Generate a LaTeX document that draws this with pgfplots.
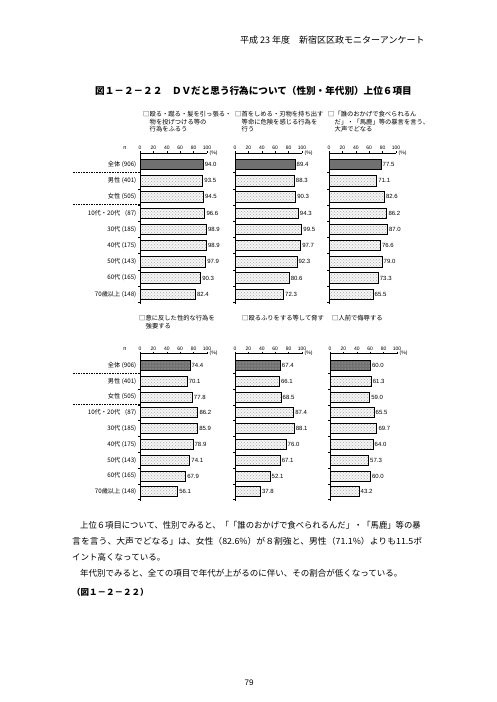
\documentclass[border=0pt]{standalone}
\usepackage{fontspec}
\setmainfont{Liberation Sans}
\newfontfamily\jp{Noto Sans CJK JP}
\usepackage{pgfplots}
\pgfplotsset{compat=1.18}
\usetikzlibrary{patterns}
\definecolor{totalgray}{RGB}{112,112,112}

\pgfplotsset{
  dv/.style={
    xbar, scale only axis, width=67pt,
    xmin=0, xmax=100, y dir=reverse,
    axis x line*=top, axis y line*=left,
    axis line style={line width=0.5pt},
    /pgf/number format/assume math mode=true,
    xtick={0,20,40,60,80,100},
    xticklabel style={font=\fontsize{5}{6}\selectfont, inner sep=1pt},
    ytick={0.5,1.5,2.5,3.5,4.5,5.5,6.5,7.5,8.5}, yticklabels={},
    major tick length=2pt,
    tick align=outside,
    tick style={line width=0.4pt, black},
    bar width=10.5pt, bar shift=0pt,
    nodes near coords,
    every node near coord/.append style={font=\fontsize{6}{6}\selectfont, inner sep=1.5pt,
      /pgf/number format/.cd, fixed, fixed zerofill, precision=1, assume math mode=true},
    clip=false,
    anchor=north west,
  },
  dvtop/.style={height=151pt, ymin=-0.7, ymax=8.6},
  dvbot/.style={height=147.7pt, ymin=-0.75, ymax=8.6, bar width=10pt},
  dvlab/.style={
    extra y ticks={0,1,2,3,4,5,6,7,8},
    extra y tick labels={全体 (906),男性 (401),女性 (505),10代・20代\hspace{5pt}(87),30代 (185),40代 (175),50代 (143),60代 (165),70歳以上 (148)},
    extra y tick style={major tick length=0pt, tick style={draw=none},
      yticklabel style={font=\jp\fontsize{6.2}{7}\selectfont, inner sep=0pt, xshift=-3.5pt}},
  },
  totbar/.style={fill=totalgray, draw=black, line width=0.6pt},
  totbarb/.style={fill=totalgray, draw=black, line width=0.6pt, postaction={pattern=dots, pattern color=gray!35}},
  restbar/.style={fill=gray!8, draw=black, line width=0.6pt, postaction={pattern=crosshatch dots, pattern color=gray!65}},
}

\newcommand\pct[1]{\node[anchor=west, inner sep=0pt, font=\fontsize{5}{6}\selectfont] at ([xshift=2.5pt]axis cs:100,#1) {(\%)};}
\newcommand\seps{%
  \draw[line width=1pt, dash pattern=on 1.6pt off 1pt] ([xshift=-67pt]axis cs:0,0.5) -- (axis cs:0,0.5);
  \draw[line width=1pt, dash pattern=on 1.6pt off 1pt] ([xshift=-67pt]axis cs:0,2.5) -- (axis cs:0,2.5);}

\begin{document}
\begin{tikzpicture}
\path[use as bounding box] (0,0) rectangle (496pt,-702pt);

% header and title
\node[anchor=west, inner sep=0pt, font=\jp\fontsize{9}{10}\selectfont] at (240pt,-40pt) {平成 23 年度　新宿区区政モニターアンケート};
\node[anchor=west, inner sep=0pt, font=\jp\bfseries\fontsize{9.6}{10}\selectfont] at (95pt,-91pt) {図１－２－２２　ＤＶだと思う行為について（性別・年代別）上位６項目};

% panel titles, top row
\begin{scope}[every node/.style={anchor=west, inner sep=0pt, font=\jp\fontsize{6.3}{7}\selectfont}]
\node at (143pt,-114pt) {□殴る・蹴る・髪を引っ張る・};
\node at (149.5pt,-121.7pt) {物を投げつける等の};
\node at (149.5pt,-129.4pt) {行為をふるう};
\node at (235pt,-114pt) {□首をしめる・刃物を持ち出す};
\node at (241.5pt,-121.7pt) {等命に危険を感じる行為を};
\node at (241.5pt,-129.4pt) {行う};
\node at (328pt,-114pt) {□「誰のおかげで食べられるん};
\node at (334.5pt,-121.7pt) {だ」・「馬鹿」等の暴言を言う、};
\node at (334.5pt,-129.4pt) {大声でどなる};
% bottom row
\node at (139pt,-318pt) {□意に反した性的な行為を};
\node at (145.5pt,-326pt) {強要する};
\node at (242pt,-318pt) {□殴るふりをする等して脅す};
\node at (332pt,-318pt) {□人前で侮辱する};
\end{scope}

\node[inner sep=0pt, font=\fontsize{5.5}{6}\selectfont] at (125pt,-148pt) {n};
\node[inner sep=0pt, font=\fontsize{5.5}{6}\selectfont] at (125pt,-349pt) {n};

% ---------- top row ----------
\begin{axis}[dv, dvtop, dvlab, at={(140pt,-153pt)}]
\addplot[totbar] coordinates {(94.0,0)};
\addplot[restbar] coordinates {(93.5,1) (94.5,2) (96.6,3) (98.9,4) (98.9,5) (97.9,6) (90.3,7) (82.4,8)};
\pct{-0.7}
\seps
\end{axis}

\begin{axis}[dv, dvtop, at={(235pt,-153pt)}]
\addplot[totbar] coordinates {(89.4,0)};
\addplot[restbar] coordinates {(88.3,1) (90.3,2) (94.3,3) (99.5,4) (97.7,5) (92.3,6) (80.6,7) (72.3,8)};
\pct{-0.7}
\end{axis}

\begin{axis}[dv, dvtop, at={(329pt,-153pt)}]
\addplot[totbar] coordinates {(77.5,0)};
\addplot[restbar] coordinates {(71.1,1) (82.6,2) (86.2,3) (87.0,4) (76.6,5) (79.0,6) (73.3,7) (65.5,8)};
\pct{-0.7}
\end{axis}

% ---------- bottom row ----------
\begin{axis}[dv, dvbot, dvlab, at={(140pt,-353.5pt)}]
\addplot[totbarb] coordinates {(74.4,0)};
\addplot[restbar] coordinates {(70.1,1) (77.8,2) (86.2,3) (85.9,4) (78.9,5) (74.1,6) (67.9,7) (56.1,8)};
\pct{-0.75}
\seps
\end{axis}

\begin{axis}[dv, dvbot, at={(235pt,-353.5pt)}]
\addplot[totbarb] coordinates {(67.4,0)};
\addplot[restbar] coordinates {(66.1,1) (68.5,2) (87.4,3) (88.1,4) (76.0,5) (67.1,6) (52.1,7) (37.8,8)};
\pct{-0.75}
\end{axis}

\begin{axis}[dv, dvbot, at={(330pt,-353.5pt)}]
\addplot[totbarb] coordinates {(60.0,0)};
\addplot[restbar] coordinates {(61.3,1) (59.0,2) (65.5,3) (69.7,4) (64.0,5) (57.3,6) (60.0,7) (43.2,8)};
\pct{-0.75}
\end{axis}

% body text
\begin{scope}[every node/.style={anchor=west, inner sep=0pt, font=\jp\fontsize{8.5}{9}\selectfont}]
\node at (80pt,-525pt) {\scalebox{0.98}[1]{上位６項目について、性別でみると、「「誰のおかげで食べられるんだ」・「馬鹿」等の暴}};
\node at (72pt,-541pt) {\scalebox{1.04}[1]{言を言う、大声でどなる」は、女性（82.6\%）が８割強と、男性（71.1\%）よりも11.5ポ}};
\node at (72pt,-557pt) {イント高くなっている。};
\node at (80pt,-573pt) {年代別でみると、全ての項目で年代が上がるのに伴い、その割合が低くなっている。};
\node[font=\jp\bfseries\fontsize{8.5}{9}\selectfont] at (72pt,-592pt) {（図１－２－２２）};
\end{scope}
\node[inner sep=0pt, font=\fontsize{8}{9}\selectfont] at (249pt,-683pt) {79};
\end{tikzpicture}
\end{document}
